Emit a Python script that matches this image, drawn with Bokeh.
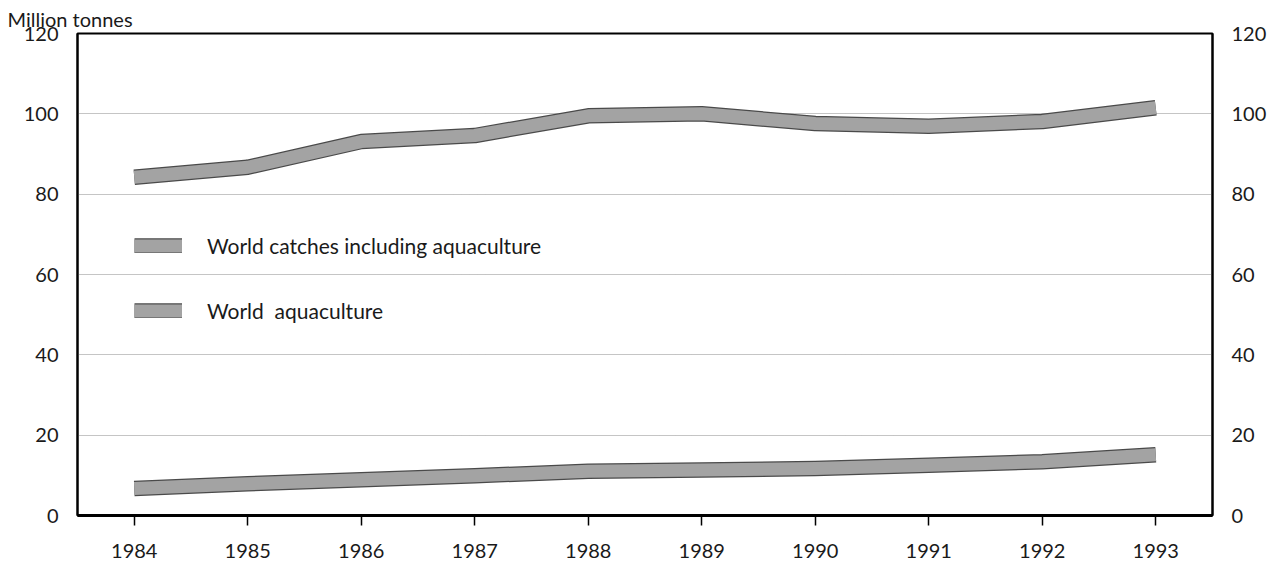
from bokeh.plotting import figure
from bokeh.models import Range1d, LinearAxis, FixedTicker, Legend, LegendItem, Title
from bokeh.embed import file_html
from bokeh.resources import INLINE

years = [1984, 1985, 1986, 1987, 1988, 1989, 1990, 1991, 1992, 1993]
catches = [84.2, 86.7, 93.1, 94.6, 99.5, 100.0, 97.6, 96.9, 98.1, 101.5]
aquaculture = [6.7, 7.9, 8.9, 9.9, 11.0, 11.3, 11.7, 12.5, 13.4, 15.1]
y_ticks = [0, 20, 40, 60, 80, 100, 120]
series_labels = ["World catches including aquaculture", "World  aquaculture"]
unit_label = "Million tonnes"

FONT = "Lato"
TXT = "#1a1a1a"
EDGE = "#4a4a4a"
FILL = "#a3a3a3"

p = figure(width=1279, height=568, output_backend="svg", toolbar_location=None,
           x_range=Range1d(1983.5, 1993.5), y_range=Range1d(0, 120),
           min_border_left=77, min_border_right=67, min_border_top=33,
           min_border_bottom=53, background_fill_color="white",
           border_fill_color="white")

p.title = Title(text=unit_label, align="left", offset=-70, standoff=6,
                text_font=FONT, text_font_size="20px", text_font_style="normal",
                text_color=TXT)

p.outline_line_color = "black"
p.outline_line_width = 2

# grid
p.xgrid.visible = False
p.ygrid.ticker = FixedTicker(ticks=y_ticks)
p.ygrid.grid_line_color = "#8a8a8a"
p.ygrid.grid_line_width = 1
p.ygrid.grid_line_dash = "1 1"

# x axis
xa = p.xaxis[0]
xa.ticker = FixedTicker(ticks=years)
xa.axis_line_width = 3
xa.axis_line_color = "black"
xa.major_tick_out = 10
xa.major_tick_in = 0
xa.major_tick_line_width = 1.5
xa.minor_tick_line_color = None
xa.major_label_standoff = 18
xa.major_label_text_font = FONT
xa.major_label_text_font_size = "20px"
xa.major_label_text_color = TXT

# y axes
def style_y(ax):
    ax.ticker = FixedTicker(ticks=y_ticks)
    ax.axis_line_width = 2
    ax.axis_line_color = "black"
    ax.major_tick_out = 0
    ax.major_tick_in = 0
    ax.minor_tick_line_color = None
    ax.major_label_standoff = 19
    ax.major_label_text_font = FONT
    ax.major_label_text_font_size = "20px"
    ax.major_label_text_color = TXT

style_y(p.yaxis[0])
ra = LinearAxis()
style_y(ra)
p.add_layout(ra, "right")

# series as thick bands with dark edges
r1o = p.line(years, catches, line_width=15.5, line_color=EDGE, line_cap="butt", line_join="round")
r1i = p.line(years, catches, line_width=13, line_color=FILL, line_cap="butt", line_join="round")
r2o = p.line(years, aquaculture, line_width=15.5, line_color=EDGE, line_cap="butt", line_join="round")
r2i = p.line(years, aquaculture, line_width=13, line_color=FILL, line_cap="butt", line_join="round")

legend = Legend(items=[LegendItem(label=series_labels[0], renderers=[r1o, r1i]),
                       LegendItem(label=series_labels[1], renderers=[r2o, r2i])],
                location=(57, 192), orientation="vertical",
                glyph_width=48, glyph_height=15, label_height=20,
                spacing=40, padding=0, margin=0, label_standoff=25,
                border_line_color=None, background_fill_alpha=0,
                label_text_font=FONT, label_text_font_size="21px",
                label_text_color=TXT)
p.add_layout(legend, "center")

open("out.html", "w").write(file_html(p, INLINE))
